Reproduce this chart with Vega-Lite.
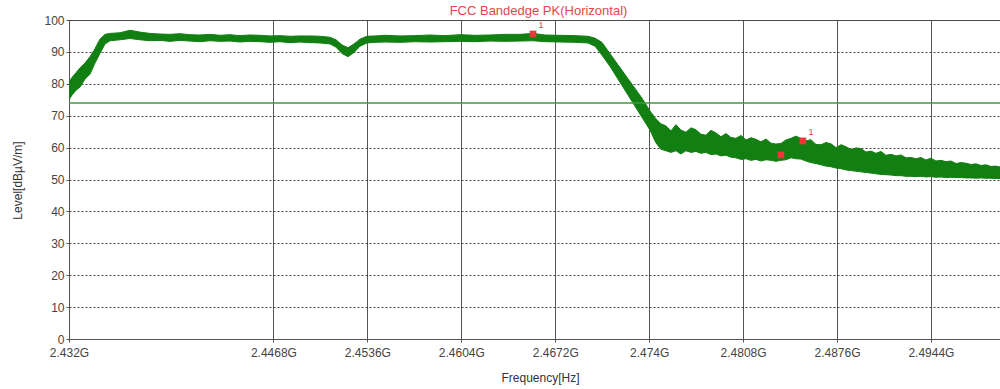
{
  "$schema": "https://vega.github.io/schema/vega-lite/v6.json",
  "autosize": "none",
  "width": 931,
  "height": 319,
  "padding": {"left": 69, "top": 20, "right": 0, "bottom": 50},
  "background": "white",
  "title": {"text": "FCC Bandedge PK(Horizontal)", "color": "#e5454d", "fontSize": 13, "fontWeight": "normal", "font": "Liberation Sans", "anchor": "middle", "dx": 4, "offset": -4},
  "config": {
    "view": {"stroke": "#555", "strokeWidth": 1},
    "axis": {"labelFont": "Liberation Sans", "titleFont": "Liberation Sans", "labelFontSize": 12, "titleFontSize": 12, "labelColor": "#444", "titleColor": "#333", "titleFontWeight": "normal", "domainColor": "#555", "tickColor": "#555", "tickSize": 3, "labelOverlap": false}
  },
  "datasets": {
    "trace": [
      {"f": 2.43200, "lo": 75, "hi": 80.5},
      {"f": 2.43222, "lo": 76.5, "hi": 82},
      {"f": 2.43251, "lo": 78, "hi": 83.5},
      {"f": 2.43280, "lo": 79, "hi": 85},
      {"f": 2.43316, "lo": 81.5, "hi": 86.5},
      {"f": 2.43352, "lo": 83, "hi": 88.5},
      {"f": 2.43388, "lo": 86.5, "hi": 91},
      {"f": 2.43424, "lo": 89.5, "hi": 94},
      {"f": 2.43461, "lo": 92.5, "hi": 95.5},
      {"f": 2.43497, "lo": 93.5, "hi": 95.8},
      {"f": 2.43569, "lo": 93.8, "hi": 96},
      {"f": 2.43642, "lo": 94.2, "hi": 96.8},
      {"f": 2.43714, "lo": 93.8, "hi": 96.2},
      {"f": 2.43786, "lo": 93.5, "hi": 95.8},
      {"f": 2.43859, "lo": 93.6, "hi": 95.6},
      {"f": 2.43931, "lo": 93.3, "hi": 95.5},
      {"f": 2.44004, "lo": 93.6, "hi": 95.7},
      {"f": 2.44076, "lo": 93.4, "hi": 95.4},
      {"f": 2.44148, "lo": 93.2, "hi": 95.3},
      {"f": 2.44221, "lo": 93.5, "hi": 95.5},
      {"f": 2.44293, "lo": 93.3, "hi": 95.2},
      {"f": 2.44365, "lo": 93.4, "hi": 95.4},
      {"f": 2.44438, "lo": 93.1, "hi": 95.1},
      {"f": 2.44510, "lo": 93.3, "hi": 95.3},
      {"f": 2.44583, "lo": 93.2, "hi": 95.2},
      {"f": 2.44655, "lo": 93.0, "hi": 95.0},
      {"f": 2.44727, "lo": 93.2, "hi": 95.1},
      {"f": 2.44800, "lo": 92.9, "hi": 94.9},
      {"f": 2.44872, "lo": 93.1, "hi": 95.0},
      {"f": 2.44945, "lo": 92.9, "hi": 95.0},
      {"f": 2.45017, "lo": 92.8, "hi": 94.9},
      {"f": 2.45089, "lo": 92.5, "hi": 94.6},
      {"f": 2.45133, "lo": 91.5, "hi": 93.8},
      {"f": 2.45176, "lo": 89.5, "hi": 92.2},
      {"f": 2.45220, "lo": 88.5, "hi": 91.3},
      {"f": 2.45263, "lo": 89.8, "hi": 92.5},
      {"f": 2.45307, "lo": 91.8, "hi": 94},
      {"f": 2.45357, "lo": 92.8, "hi": 94.9},
      {"f": 2.45415, "lo": 93, "hi": 95},
      {"f": 2.45488, "lo": 93.1, "hi": 95.2},
      {"f": 2.45596, "lo": 93, "hi": 95},
      {"f": 2.45705, "lo": 93.2, "hi": 95.1},
      {"f": 2.45813, "lo": 93.1, "hi": 95.3},
      {"f": 2.45922, "lo": 93.2, "hi": 95.1},
      {"f": 2.46030, "lo": 93.3, "hi": 95.4},
      {"f": 2.46139, "lo": 93.2, "hi": 95.2},
      {"f": 2.46248, "lo": 93.4, "hi": 95.3},
      {"f": 2.46356, "lo": 93.3, "hi": 95.5},
      {"f": 2.46465, "lo": 93.4, "hi": 95.5},
      {"f": 2.46559, "lo": 93.5, "hi": 95.8},
      {"f": 2.46646, "lo": 93.2, "hi": 95.3},
      {"f": 2.46754, "lo": 93.1, "hi": 95.2},
      {"f": 2.46863, "lo": 93.0, "hi": 95.1},
      {"f": 2.46957, "lo": 92.8, "hi": 94.9},
      {"f": 2.47008, "lo": 91.8, "hi": 94.3},
      {"f": 2.47058, "lo": 89, "hi": 93},
      {"f": 2.47116, "lo": 85.5, "hi": 89.5},
      {"f": 2.47174, "lo": 81.5, "hi": 86},
      {"f": 2.47232, "lo": 77.5, "hi": 82.5},
      {"f": 2.47290, "lo": 73.5, "hi": 79},
      {"f": 2.47348, "lo": 69.5, "hi": 75.5},
      {"f": 2.47406, "lo": 65.5, "hi": 71.5},
      {"f": 2.47449, "lo": 61.5, "hi": 69},
      {"f": 2.47485, "lo": 59.5, "hi": 67.5},
      {"f": 2.47522, "lo": 59, "hi": 66.8},
      {"f": 2.47558, "lo": 58.5, "hi": 65.2},
      {"f": 2.47594, "lo": 59, "hi": 67.2},
      {"f": 2.47630, "lo": 58, "hi": 65.5},
      {"f": 2.47666, "lo": 59, "hi": 64.8},
      {"f": 2.47703, "lo": 58.5, "hi": 66.2},
      {"f": 2.47739, "lo": 58.8, "hi": 65.6},
      {"f": 2.47775, "lo": 58.2, "hi": 64.2},
      {"f": 2.47811, "lo": 58.5, "hi": 63.9},
      {"f": 2.47847, "lo": 57.8, "hi": 65.4},
      {"f": 2.47884, "lo": 58, "hi": 64.6},
      {"f": 2.47920, "lo": 57.4, "hi": 63.4},
      {"f": 2.47956, "lo": 57.6, "hi": 64.4},
      {"f": 2.47992, "lo": 57, "hi": 63.2},
      {"f": 2.48028, "lo": 56.8, "hi": 62.9},
      {"f": 2.48065, "lo": 56.3, "hi": 63.8},
      {"f": 2.48101, "lo": 56.5, "hi": 62.4},
      {"f": 2.48137, "lo": 56, "hi": 63.1},
      {"f": 2.48173, "lo": 56.3, "hi": 62.6},
      {"f": 2.48209, "lo": 55.8, "hi": 61.8},
      {"f": 2.48246, "lo": 56.2, "hi": 62.7},
      {"f": 2.48282, "lo": 56, "hi": 61.4},
      {"f": 2.48318, "lo": 55.7, "hi": 61.1},
      {"f": 2.48354, "lo": 56, "hi": 61.3},
      {"f": 2.48390, "lo": 56.2, "hi": 62.4},
      {"f": 2.48427, "lo": 56.8, "hi": 62.9},
      {"f": 2.48463, "lo": 56.5, "hi": 63.6},
      {"f": 2.48499, "lo": 56.4, "hi": 62.8},
      {"f": 2.48535, "lo": 55.8, "hi": 62.1},
      {"f": 2.48571, "lo": 55.3, "hi": 62.5},
      {"f": 2.48608, "lo": 55, "hi": 61.0},
      {"f": 2.48644, "lo": 54.6, "hi": 60.9},
      {"f": 2.48680, "lo": 54.2, "hi": 61.6},
      {"f": 2.48716, "lo": 54, "hi": 61.2},
      {"f": 2.48752, "lo": 53.6, "hi": 60.0},
      {"f": 2.48789, "lo": 53.4, "hi": 60.9},
      {"f": 2.48825, "lo": 53, "hi": 60.3},
      {"f": 2.48861, "lo": 52.8, "hi": 59.4},
      {"f": 2.48897, "lo": 52.6, "hi": 59.9},
      {"f": 2.48933, "lo": 52.4, "hi": 59.7},
      {"f": 2.48970, "lo": 52.2, "hi": 58.6},
      {"f": 2.49006, "lo": 52, "hi": 58.9},
      {"f": 2.49042, "lo": 51.8, "hi": 58.2},
      {"f": 2.49078, "lo": 51.6, "hi": 58.8},
      {"f": 2.49114, "lo": 51.5, "hi": 57.6},
      {"f": 2.49151, "lo": 51.4, "hi": 57.9},
      {"f": 2.49187, "lo": 51.2, "hi": 57.4},
      {"f": 2.49223, "lo": 51.2, "hi": 57.7},
      {"f": 2.49259, "lo": 51, "hi": 56.8},
      {"f": 2.49295, "lo": 51, "hi": 56.9},
      {"f": 2.49332, "lo": 50.9, "hi": 56.5},
      {"f": 2.49368, "lo": 51, "hi": 56.9},
      {"f": 2.49404, "lo": 50.8, "hi": 56.1},
      {"f": 2.49440, "lo": 50.9, "hi": 56.7},
      {"f": 2.49476, "lo": 50.7, "hi": 55.8},
      {"f": 2.49513, "lo": 50.8, "hi": 56.0},
      {"f": 2.49549, "lo": 50.6, "hi": 55.6},
      {"f": 2.49585, "lo": 50.7, "hi": 55.8},
      {"f": 2.49621, "lo": 50.6, "hi": 55.0},
      {"f": 2.49657, "lo": 50.6, "hi": 55.3},
      {"f": 2.49694, "lo": 50.5, "hi": 55.1},
      {"f": 2.49730, "lo": 50.5, "hi": 54.7},
      {"f": 2.49766, "lo": 50.4, "hi": 54.9},
      {"f": 2.49802, "lo": 50.5, "hi": 54.4},
      {"f": 2.49838, "lo": 50.4, "hi": 54.6},
      {"f": 2.49875, "lo": 50.4, "hi": 54.1},
      {"f": 2.49911, "lo": 50.3, "hi": 54.2},
      {"f": 2.49940, "lo": 50.3, "hi": 53.9}
    ],
    "markers": [
      {"f": 2.46559, "level": 95.6, "label": "1"},
      {"f": 2.48354, "level": 57.7, "label": ""},
      {"f": 2.48513, "level": 62.1, "label": "1"}
    ],
    "limit": [{"level": 74}]
  },
  "layer": [
    {
      "data": {"name": "trace"},
      "mark": {"type": "area", "color": "#127f12", "stroke": "#127f12", "strokeWidth": 1, "clip": true},
      "encoding": {
        "x": {"field": "f", "type": "quantitative", "scale": {"domain": [2.432, 2.4994], "nice": false, "zero": false},
          "axis": {"values": [2.432, 2.4468, 2.4536, 2.4604, 2.4672, 2.474, 2.4808, 2.4876, 2.4944], "labelExpr": "format(datum.value, '.4~f') + 'G'", "title": "Frequency[Hz]", "titleX": 471, "titleY": 38, "titleBaseline": "middle", "titleAlign": "center", "gridColor": "#555", "gridOpacity": 1, "gridWidth": 1, "labelPadding": 5, "labelFlush": false}},
        "y": {"field": "lo", "type": "quantitative", "scale": {"domain": [0, 100], "nice": false},
          "axis": {"values": [0, 10, 20, 30, 40, 50, 60, 70, 80, 90, 100], "title": "Level[dBµV/m]", "titleX": -52, "titleY": 160, "titleBaseline": "middle", "titleAlign": "center", "titleAngle": 270, "gridColor": "#444", "gridDash": [2, 2], "gridOpacity": 1, "gridWidth": 1, "labelPadding": 2}},
        "y2": {"field": "hi"}
      }
    },
    {
      "data": {"name": "limit"},
      "mark": {"type": "rule", "color": "#3f9a3f", "strokeWidth": 1.5},
      "encoding": {"y": {"field": "level", "type": "quantitative",
          "axis": {"values": [0, 10, 20, 30, 40, 50, 60, 70, 80, 90, 100], "title": "Level[dBµV/m]", "titleX": -52, "titleY": 160, "titleBaseline": "middle", "titleAlign": "center", "titleAngle": 270, "gridColor": "#444", "gridDash": [2, 2], "gridOpacity": 1, "gridWidth": 1, "labelPadding": 2}}}
    },
    {
      "data": {"name": "markers"},
      "mark": {"type": "square", "color": "#e8383a", "opacity": 1, "size": 45},
      "encoding": {"x": {"field": "f", "type": "quantitative"}, "y": {"field": "level", "type": "quantitative",
          "axis": {"values": [0, 10, 20, 30, 40, 50, 60, 70, 80, 90, 100], "title": "Level[dBµV/m]", "titleX": -52, "titleY": 160, "titleBaseline": "middle", "titleAlign": "center", "titleAngle": 270, "gridColor": "#444", "gridDash": [2, 2], "gridOpacity": 1, "gridWidth": 1, "labelPadding": 2}}}
    },
    {
      "data": {"name": "markers"},
      "mark": {"type": "text", "color": "#e8383a", "fontSize": 9, "font": "Liberation Sans", "dx": 8, "dy": -9},
      "encoding": {"x": {"field": "f", "type": "quantitative"}, "y": {"field": "level", "type": "quantitative",
          "axis": {"values": [0, 10, 20, 30, 40, 50, 60, 70, 80, 90, 100], "title": "Level[dBµV/m]", "titleX": -52, "titleY": 160, "titleBaseline": "middle", "titleAlign": "center", "titleAngle": 270, "gridColor": "#444", "gridDash": [2, 2], "gridOpacity": 1, "gridWidth": 1, "labelPadding": 2}}, "text": {"field": "label"}}
    }
  ]
}
